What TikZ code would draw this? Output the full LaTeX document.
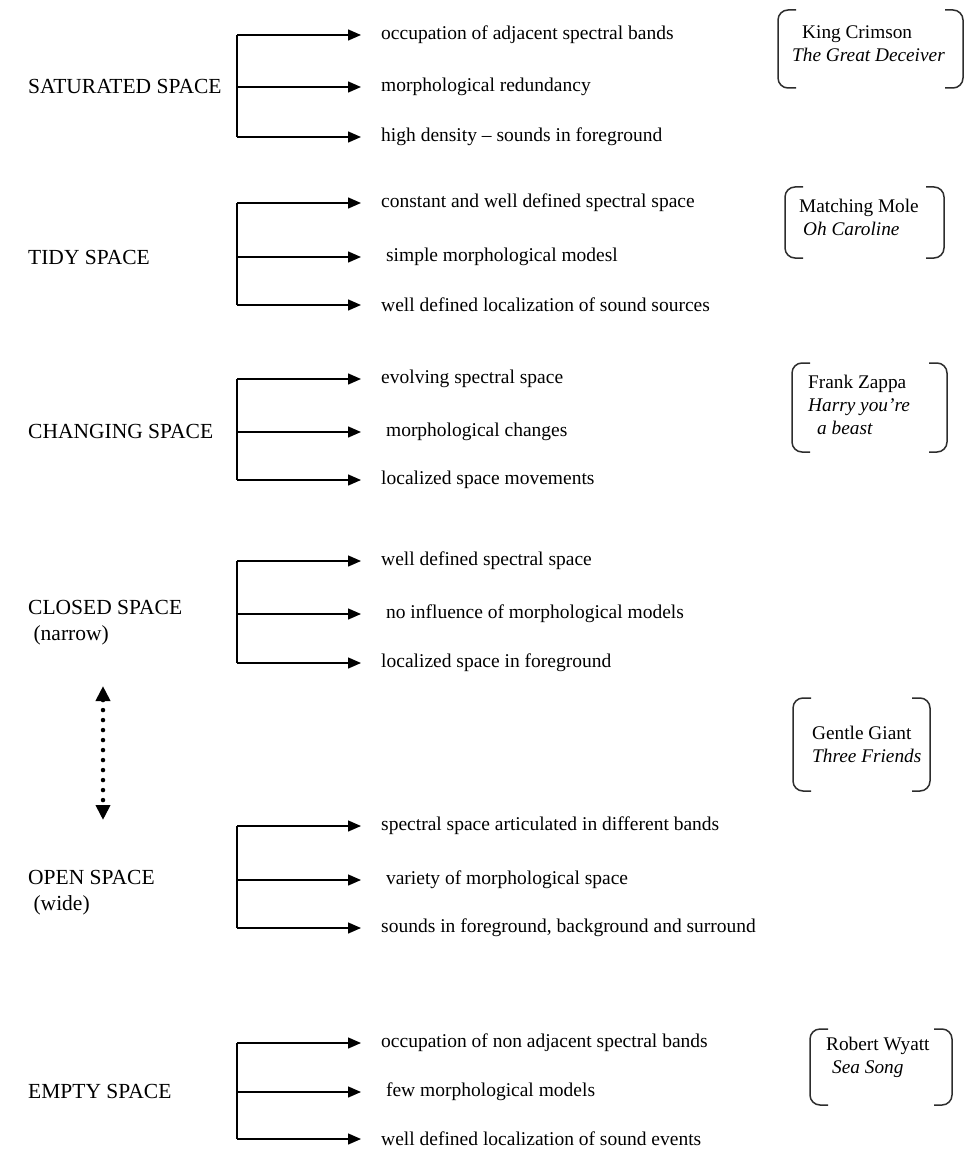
\documentclass[tikz,border=0pt]{standalone}
\usepackage{fontspec}
\setmainfont{Liberation Serif}
\usepackage{xcolor}
\usetikzlibrary{arrows.meta}
\definecolor{inkgray}{RGB}{45,45,45}

\begin{document}
\begin{tikzpicture}[
  x=1pt, y=-1pt,
  spacelabel/.style={anchor=west, inner sep=0pt, align=left, font=\fontsize{21.5}{26}\selectfont},
  item/.style={anchor=west, inner xsep=3pt, inner ysep=1pt, font=\fontsize{19.5}{23}\selectfont},
  bandtext/.style={anchor=west, inner sep=0pt, align=left, font=\fontsize{19.3}{23}\selectfont},
  fork/.style={line width=1.4pt},
  arr/.style={line width=1.4pt, -{Triangle[length=13pt,width=11pt]}, shorten >=17pt},
  dotarr/.style={line width=4.5pt, line cap=round, dash pattern=on 0pt off 10pt,
    {Triangle[length=15pt,width=14pt]}-{Triangle[length=15pt,width=14pt]}},
  bracket/.style={draw=inkgray, line width=1.5pt, rounded corners=10pt}
]
\useasboundingbox (0,0) rectangle (966,1150);

% left column
\node[spacelabel] (sat) at (28,86) {SATURATED SPACE};
\node[spacelabel] (tidy) at (28,257) {TIDY SPACE};
\node[spacelabel] (chg) at (28,431) {CHANGING SPACE};
\node[spacelabel] (clo) at (28,623) {CLOSED SPACE\\\hspace{0.25em}(narrow)};
\node[spacelabel] (opn) at (28,893) {OPEN SPACE\\\hspace{0.25em}(wide)};
\node[spacelabel] (emp) at (28,1091) {EMPTY SPACE};

% items
\node[item] (sat1) at (378,35) {occupation of adjacent spectral bands};
\node[item] (sat2) at (378,87) {morphological redundancy};
\node[item] (sat3) at (378,137) {high density -- sounds in foreground};

\node[item] (tidy1) at (378,203) {constant and well defined spectral space};
\node[item] (tidy2) at (378,257) {\ simple morphological modesl};
\node[item] (tidy3) at (378,305) {well defined localization of sound sources};

\node[item] (chg1) at (378,379) {evolving spectral space};
\node[item] (chg2) at (378,432) {\ morphological changes};
\node[item] (chg3) at (378,480) {localized space movements};

\node[item] (clo1) at (378,561) {well defined spectral space};
\node[item] (clo2) at (378,614) {\ no influence of morphological models};
\node[item] (clo3) at (378,663) {localized space in foreground};

\node[item] (opn1) at (378,826) {spectral space articulated in different bands};
\node[item] (opn2) at (378,880) {\ variety of morphological space};
\node[item] (opn3) at (378,928) {sounds in foreground, background and surround};

\node[item] (emp1) at (378,1043) {occupation of non adjacent spectral bands};
\node[item] (emp2) at (378,1092) {\ few morphological models};
\node[item] (emp3) at (378,1139) {well defined localization of sound events};

% forks
\coordinate (forkx) at (237,0);
\foreach \g in {sat,tidy,chg,clo,opn,emp} {
  \draw[fork] (forkx |- \g1.west) -- (forkx |- \g3.west);
  \foreach \i in {1,2,3}
    \draw[arr] (forkx |- \g\i.west) -- (\g\i);
}

% narrow <-> wide
\coordinate (narrowend) at (103,686);
\coordinate (wideend) at (103,820);
\draw[dotarr] (narrowend) -- (wideend);

% examples
\foreach \xa/\xb/\ya/\yb in {778/963/10/88, 785/944/187/258, 792/947/363/452, 793/930/698/791, 810/952/1029/1105} {
  \draw[bracket] (\xa+18,\ya) -- (\xa,\ya) -- (\xa,\yb) -- (\xa+18,\yb);
  \draw[bracket] (\xb-18,\ya) -- (\xb,\ya) -- (\xb,\yb) -- (\xb-18,\yb);
}
\node[bandtext] (kc) at (792,43.5) {\hspace{10pt}King Crimson\\\textit{The Great Deceiver}};
\node[bandtext] (mm) at (799,217) {Matching Mole\\\hspace{4pt}\textit{Oh Caroline}};
\node[bandtext] (fz) at (808,405) {Frank Zappa\\\textit{Harry you're}\\\hspace{9pt}\textit{a beast}};
\node[bandtext] (gg) at (812,744) {Gentle Giant\\\textit{Three Friends}};
\node[bandtext] (rw) at (826,1057.5) {Robert Wyatt\\\hspace{6pt}\textit{Sea Song}};
\end{tikzpicture}
\end{document}
